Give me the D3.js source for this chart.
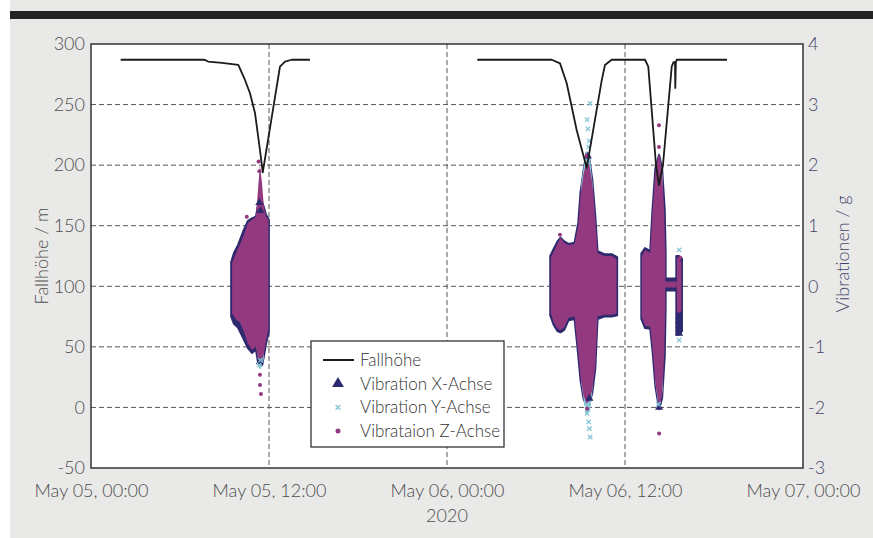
<!DOCTYPE html>
<html>
<head>
<meta charset="utf-8">
<script src="https://cdn.jsdelivr.net/npm/d3@7"></script>
<style>
  body { margin: 0; background: #fff; }
  svg { display: block; font-family: Lato, 'Open Sans', sans-serif; font-weight: 300; }
</style>
</head>
<body>
<script>
var width = 873
var height = 538

// Fallhöhe in m, hours after May 05 00:00 (null = gap)
var fallHours  = [2.0, 7.55, 7.7, 7.89, 8.83, 9.93, 10.38, 10.72, 11.06, 11.39, 11.58, 12.74, 13.08, 13.53, 14.76,
                  null,
                  26.04, 31.06, 31.62, 32.07, 32.74, 33.42, 34.43, 34.65, 35.1, 37.01, 37.35, 37.57, 38.09, 38.29,
                  38.56, 39.15, 39.27, 39.37, 39.39, 39.43, 39.49, 42.88]
var fallHeight = [287, 287, 286.8, 285.5, 284.5, 282.7, 270.3, 259.3, 242.8, 212.5, 194, 281.3, 285.4, 287, 287,
                  null,
                  287, 287, 284, 267.6, 229, 197.7, 270, 282.7, 287, 287, 287, 281.3, 200.1, 183.6,
                  200.1, 281.3, 285, 285, 263.7, 285, 287, 287]

// dense vibration clouds: [hour, min g, max g]
var vibXBlobs = [
  [[9.45,-0.5,0.4],[9.64,-0.62,0.55],[9.91,-0.68,0.68],[10.25,-0.85,0.9],[10.58,-1.02,1.08],[10.85,-1.1,1.12],
   [11.12,-1.05,1.15],[11.26,-1.25,1.35],[11.39,-1.32,1.45],[11.53,-1.3,1.4],[11.66,-1.15,1.3],[11.8,-0.95,1.18],[11.99,-0.75,1.1]],
  [[30.96,-0.48,0.5],[31.2,-0.64,0.62],[31.45,-0.74,0.74],[31.65,-0.76,0.8],[31.9,-0.72,0.74],[32.2,-0.56,0.7],
   [32.6,-0.54,0.72],[32.85,-1.15,1.05],[33.0,-1.55,1.55],[33.2,-1.85,1.9],[33.4,-1.98,2.2],[33.6,-1.95,2.1],
   [33.8,-1.75,1.75],[34.0,-1.35,1.15],[34.15,-0.54,0.58],[34.6,-0.5,0.53],[35.1,-0.5,0.53],[35.47,-0.48,0.48]],
  [[37.1,-0.54,0.54],[37.35,-0.69,0.63],[37.7,-0.7,0.58],[37.85,-1.05,1.25],[38.05,-1.65,1.95],[38.3,-2.03,2.17],
   [38.5,-1.85,1.95],[38.68,-1.15,1.25],[38.74,-0.35,0.55]],
  [[38.66,-0.07,0.13],[39.5,-0.07,0.13]],
  [[39.46,-0.8,0.5],[39.65,-0.8,0.5],[39.84,-0.74,0.46]]
]
var vibYBlobs = [
  [[11.2,-1.0,0.9],[11.4,-1.36,1.3],[11.6,-1.2,1.0]],
  [[33.1,-1.6,1.7],[33.4,-2.1,2.2],[33.6,-2.05,2.1],[33.8,-1.6,1.6]],
  [[38.1,-1.6,1.7],[38.3,-1.98,2.1],[38.5,-1.7,1.8]]
]
var vibZBlobs = [
  [[9.51,-0.45,0.38],[9.78,-0.55,0.55],[10.05,-0.6,0.7],[10.31,-0.75,0.85],[10.58,-0.95,1.05],[10.85,-1.05,1.1],
   [11.12,-1.0,1.15],[11.26,-1.2,1.6],[11.39,-1.3,2.0],[11.53,-1.25,1.7],[11.66,-1.1,1.3],[11.8,-0.9,1.15],[11.96,-0.7,1.1]],
  [[31.0,-0.44,0.47],[31.2,-0.6,0.58],[31.45,-0.7,0.7],[31.65,-0.72,0.8],[31.9,-0.68,0.72],[32.2,-0.52,0.68],
   [32.6,-0.5,0.7],[32.85,-1.1,1.0],[33.0,-1.5,1.5],[33.2,-1.8,1.85],[33.4,-1.93,2.05],[33.6,-1.9,2.0],
   [33.8,-1.7,1.7],[34.0,-1.3,1.1],[34.15,-0.5,0.55],[34.6,-0.47,0.5],[35.1,-0.47,0.5],[35.43,-0.45,0.45]],
  [[37.13,-0.5,0.5],[37.35,-0.65,0.6],[37.7,-0.67,0.55],[37.85,-1.0,1.2],[38.05,-1.6,1.9],[38.3,-2.0,2.2],
   [38.5,-1.8,1.9],[38.65,-1.1,1.2],[38.72,-0.3,0.5]],
  [[38.7,-0.02,0.08],[39.48,-0.02,0.08]],
  [[39.5,-0.42,0.47],[39.65,-0.45,0.47],[39.8,-0.4,0.4]]
]

// single scattered points: [hour, g]
var vibXPoints = [[11.35,1.38],[11.42,1.25],[11.38,-1.25],[33.5,2.15],[33.6,-1.85],[38.3,-2.0],
                  [39.65,-0.5],[39.65,-0.57],[39.65,-0.64],[39.65,-0.71],[39.65,-0.78]]
var vibYPoints = [[11.33,-1.3],[11.42,-1.22],[33.65,3.02],[33.5,2.6],[33.6,2.4],[33.55,2.3],[33.45,2.75],
                  [33.45,-2.1],[33.55,-2.24],[33.65,-2.49],[33.6,-2.35],[39.65,0.6],[39.65,-0.89],[38.25,-1.95]]
var vibZPoints = [[11.39,-1.46],[11.39,-1.63],[11.46,-1.78],[11.3,2.06],[11.35,1.9],[10.5,1.15],
                  [31.62,0.85],[33.4,2.15],[33.45,-2.02],[38.29,2.66],[38.29,2.3],[38.3,-2.43],[39.72,0.47]]

var leftTicks = [-50, 0, 50, 100, 150, 200, 250, 300]
var rightTicks = [-3, -2, -1, 0, 1, 2, 3, 4]
var timeTicks = [0, 12, 24, 36, 48]
var legendLabels = ['Fallhöhe', 'Vibration X-Achse', 'Vibration Y-Achse', 'Vibrataion Z-Achse']

var colX = '#2e2a6f', colY = '#86c6d6', colZ = '#92397f'

var t0 = new Date(2020, 4, 5, 0, 0)
function hour (h) { return new Date(t0.getTime() + h * 3600e3) }

var x = d3.scaleTime()
    .domain([hour(0), hour(48)])
    .range([91, 803])
var yL = d3.scaleLinear()
    .domain([-50, 300])
    .range([468, 44])
var yR = d3.scaleLinear()
    .domain([-3, 4])
    .range([468, 44])

var svg = d3.select('body').append('svg')
    .attr('width', width)
    .attr('height', height)

// page background + top bar
svg.append('rect').attr('x', 10).attr('y', 0).attr('width', width - 10).attr('height', height).attr('fill', '#e9e9e8')
svg.append('rect').attr('x', 10).attr('y', 11).attr('width', width - 10).attr('height', 8).attr('fill', '#232323')

svg.append('rect')
    .attr('x', 91).attr('y', 44).attr('width', 712).attr('height', 424)
    .attr('fill', '#fff')

// grid
svg.append('g').selectAll('line')
    .data(leftTicks.slice(1, -1))
  .enter().append('line')
    .attr('x1', 91).attr('x2', 803)
    .attr('y1', function (d) { return yL(d) }).attr('y2', function (d) { return yL(d) })
    .attr('stroke', '#555').attr('stroke-dasharray', '5,3')

svg.append('g').selectAll('line')
    .data(timeTicks.slice(1, -1))
  .enter().append('line')
    .attr('x1', function (d) { return x(hour(d)) }).attr('x2', function (d) { return x(hour(d)) })
    .attr('y1', 44).attr('y2', 468)
    .attr('stroke', '#555').attr('stroke-dasharray', '5,3')

// vibration clouds
var area = d3.area()
    .x(function (d) { return x(hour(d[0])) })
    .y0(function (d) { return yR(d[1]) })
    .y1(function (d) { return yR(d[2]) })

svg.append('g').selectAll('path').data(vibXBlobs).enter().append('path')
    .attr('d', area).attr('fill', colX).attr('stroke', colX).attr('stroke-width', 2).attr('stroke-linejoin', 'round')
svg.append('g').selectAll('path').data(vibYBlobs).enter().append('path')
    .attr('d', area).attr('fill', colY).attr('stroke', colY).attr('stroke-width', 1.5)
svg.append('g').selectAll('path').data(vibZBlobs).enter().append('path')
    .attr('d', area).attr('fill', colZ)

svg.append('g').selectAll('path').data(vibXPoints).enter().append('path')
    .attr('d', d3.symbol().type(d3.symbolTriangle).size(28))
    .attr('transform', function (d) { return 'translate(' + x(hour(d[0])) + ',' + yR(d[1]) + ')' })
    .attr('fill', colX)
svg.append('g').selectAll('path').data(vibYPoints).enter().append('path')
    .attr('d', d3.symbol().type(d3.symbolX).size(14))
    .attr('transform', function (d) { return 'translate(' + x(hour(d[0])) + ',' + yR(d[1]) + ')' })
    .attr('stroke', colY).attr('stroke-width', 1.3).attr('fill', 'none')
svg.append('g').selectAll('circle').data(vibZPoints).enter().append('circle')
    .attr('cx', function (d) { return x(hour(d[0])) })
    .attr('cy', function (d) { return yR(d[1]) })
    .attr('r', 2).attr('fill', colZ)

// Fallhöhe line
var line = d3.line()
    .defined(function (d, i) { return fallHours[i] != null })
    .x(function (d, i) { return x(hour(fallHours[i])) })
    .y(function (d) { return yL(d) })

svg.append('path')
    .datum(fallHeight)
    .attr('d', line)
    .attr('fill', 'none').attr('stroke', '#1b1b1b').attr('stroke-width', 1.8).attr('stroke-linejoin', 'round')

// frame
svg.append('rect')
    .attr('x', 91).attr('y', 44).attr('width', 712).attr('height', 424)
    .attr('fill', 'none').attr('stroke', '#333').attr('stroke-width', 1.5)

// axes
var plain = function (d) { return String(d) }
var axL = svg.append('g').attr('transform', 'translate(91,0)')
    .call(d3.axisLeft(yL).tickValues(leftTicks).tickSize(0).tickPadding(6).tickFormat(plain))
var axR = svg.append('g').attr('transform', 'translate(803,0)')
    .call(d3.axisRight(yR).tickValues(rightTicks).tickSize(0).tickPadding(5).tickFormat(plain))
var axB = svg.append('g').attr('transform', 'translate(0,468)')
    .call(d3.axisBottom(x).tickValues(timeTicks.map(hour)).tickSize(0).tickPadding(16)
      .tickFormat(d3.timeFormat('%b %d, %H:%M')))

;[axL, axR, axB].forEach(function (a) { a.select('.domain').remove() })
axL.selectAll('text').attr('fill', '#4d4d4d').style('font-size', '18px').style('font-family', 'Lato').style('font-weight', 300)
axR.selectAll('text').attr('fill', '#45456a').style('font-size', '18px').style('font-family', 'Lato').style('font-weight', 300)
axB.selectAll('text').attr('fill', '#4d4d4d').style('font-size', '18px').style('font-family', 'Lato').style('font-weight', 300)

svg.append('text')
    .attr('transform', 'translate(48,256) rotate(-90)')
    .attr('text-anchor', 'middle').attr('fill', '#4d4d4d').style('font-size', '18px')
    .text('Fallhöhe / m')
svg.append('text')
    .attr('transform', 'translate(849,254) rotate(-90)')
    .attr('text-anchor', 'middle').attr('fill', '#45456a').style('font-size', '18px')
    .text('Vibrationen / g')
svg.append('text')
    .attr('x', 447).attr('y', 522)
    .attr('text-anchor', 'middle').attr('fill', '#4d4d4d').style('font-size', '18px')
    .text('2020')

// legend
var lg = svg.append('g')
lg.append('rect').attr('x', 311).attr('y', 341).attr('width', 193).attr('height', 106)
    .attr('fill', '#fff').attr('stroke', '#333').attr('stroke-width', 1.3)
var rows = lg.selectAll('g').data(legendLabels).enter().append('g')
    .attr('transform', function (d, i) { return 'translate(0,' + (360 + i * 23.7) + ')' })
rows.append('text').attr('x', 360).attr('y', 6).attr('fill', '#333').style('font-size', '17px')
    .text(function (d) { return d })
rows.filter(function (d, i) { return i === 0 }).append('line')
    .attr('x1', 323).attr('x2', 354).attr('stroke', '#1b1b1b').attr('stroke-width', 2)
rows.filter(function (d, i) { return i === 1 }).append('path')
    .attr('d', d3.symbol().type(d3.symbolTriangle).size(60)).attr('transform', 'translate(338,0)').attr('fill', colX)
rows.filter(function (d, i) { return i === 2 }).append('path')
    .attr('d', d3.symbol().type(d3.symbolX).size(16)).attr('transform', 'translate(338,0)')
    .attr('stroke', colY).attr('stroke-width', 1.4).attr('fill', 'none')
rows.filter(function (d, i) { return i === 3 }).append('circle')
    .attr('cx', 338).attr('r', 2.5).attr('fill', colZ)
</script>
</body>
</html>
